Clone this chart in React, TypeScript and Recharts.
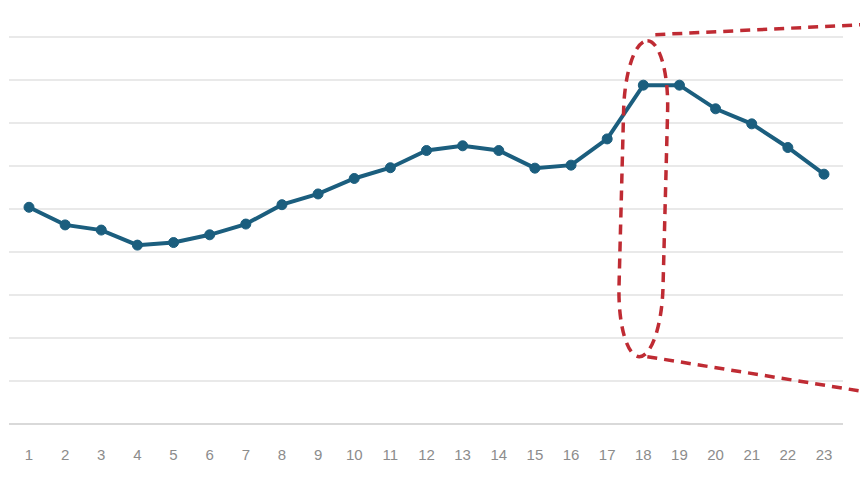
import { LineChart, Line, XAxis, YAxis, CartesianGrid, ReferenceDot } from 'recharts'

// hour-of-day series, values
const hours = ['1', '2', '3', '4', '5', '6', '7', '8', '9', '10', '11', '12', '13', '14', '15', '16', '17', '18', '19', '20', '21', '22', '23']
const values = [5.04, 4.63, 4.51, 4.16, 4.22, 4.4, 4.65, 5.1, 5.35, 5.71, 5.96, 6.36, 6.47, 6.36, 5.95, 6.02, 6.63, 7.88, 7.88, 7.33, 6.98, 6.43, 5.81]
const yTicks = [0, 1, 2, 3, 4, 5, 6, 7, 8, 9]

// callout around one hour
const highlightHour = '18'
const highlightMid = 5.24

const LINE = '#1b5e7e'
const RED = '#bf2b33'

const chartData = hours.map((h, i) => ({ hour: h, value: values[i] }))

function Callout(props: { cx?: number; cy?: number }) {
  const cx = props.cx ?? 0
  const cy = props.cy ?? 0
  const dash = { stroke: RED, strokeWidth: 3.5, strokeDasharray: '10 7', fill: 'none' }
  return (
    <g>
      <rect
        x={cx - 22}
        y={cy - 158}
        width={44}
        height={316}
        rx={22}
        ry={70}
        transform={`rotate(1.5 ${cx} ${cy})`}
        {...dash}
      />
      <path d={`M${cx + 12},${cy - 164} L${cx + 240},${cy - 175}`} {...dash} />
      <path d={`M${cx + 4},${cy + 158} L${cx + 240},${cy + 196}`} {...dash} />
    </g>
  )
}

export default function App() {
  return (
    <div style={{ position: 'absolute', left: 0, top: 0, background: '#fff' }}>
      <LineChart
        width={860}
        height={479}
        data={chartData}
        margin={{ top: 37, right: 17, left: 9, bottom: 15 }}
      >
        <CartesianGrid horizontal vertical={false} stroke="#e2e2e2" strokeWidth={1.5} />
        <XAxis
          dataKey="hour"
          padding={{ left: 20, right: 19 }}
          interval={0}
          tickLine={false}
          axisLine={{ stroke: '#d9d9d9', strokeWidth: 2 }}
          tick={{ fontSize: 15, fill: '#8c8c8c', fontFamily: 'Liberation Sans, Arial, sans-serif' }}
          tickMargin={19}
          height={40}
        />
        <YAxis hide domain={[0, 9]} ticks={yTicks} />
        <Line
          type="linear"
          dataKey="value"
          stroke={LINE}
          strokeWidth={4}
          dot={{ r: 5, fill: LINE, stroke: LINE, strokeWidth: 1 }}
          activeDot={false}
          isAnimationActive={false}
        />
        <ReferenceDot x={highlightHour} y={highlightMid} shape={<Callout />} ifOverflow="visible" />
      </LineChart>
    </div>
  )
}
